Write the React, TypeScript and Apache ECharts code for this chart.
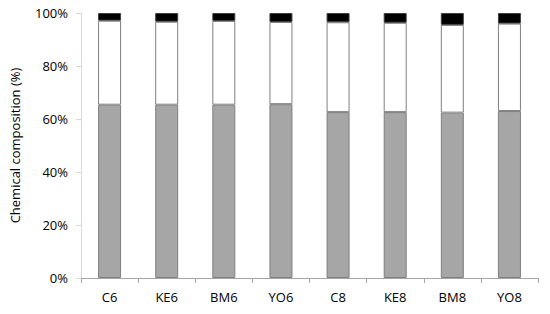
import React, { useEffect, useRef } from "react";
import * as echarts from "echarts";

const categories = ["C6", "KE6", "BM6", "YO6", "C8", "KE8", "BM8", "YO8"];
const grayValues = [65.4, 65.4, 65.4, 65.6, 62.6, 62.6, 62.4, 63.0];
const whiteValues = [31.7, 31.3, 31.6, 31.0, 33.9, 33.7, 33.1, 33.0];
const blackValues = [2.9, 3.3, 3.0, 3.4, 3.5, 3.7, 4.5, 4.0];
const yTicks = [0, 20, 40, 60, 80, 100];

export default function App() {
  const ref = useRef<HTMLDivElement>(null);
  useEffect(() => {
    if (!ref.current) return;
    const chart = echarts.init(ref.current, undefined, { renderer: "svg" });
    const font = "Open Sans, Liberation Sans, Arial, sans-serif";
    const mk = (name: string, data: number[], color: string, border: string) => ({
      name,
      type: "bar" as const,
      stack: "total",
      data,
      barWidth: 23,
      itemStyle: { color, borderColor: border, borderWidth: 1 },
    });
    chart.setOption({
      animation: false,
      backgroundColor: "#ffffff",
      grid: { left: 79, right: 12, top: 13, bottom: 36 },
      xAxis: {
        type: "category",
        data: categories,
        axisLine: { lineStyle: { color: "#a6a6a6", width: 1 } },
        axisTick: { show: true, length: 5, lineStyle: { color: "#a6a6a6" } },
        axisLabel: { color: "#000", fontFamily: font, fontSize: 13, margin: 12 },
      },
      yAxis: {
        type: "value",
        min: 0,
        max: 100,
        interval: 20,
        name: "Chemical composition (%)",
        nameLocation: "middle",
        nameGap: 60,
        nameTextStyle: { color: "#000", fontFamily: font, fontSize: 13 },
        axisLine: { show: true, lineStyle: { color: "#d9d9d9" } },
        axisTick: { show: true, length: 5, lineStyle: { color: "#d9d9d9" } },
        splitLine: { show: false },
        axisLabel: {
          color: "#000",
          fontFamily: font,
          fontSize: 13,
          margin: 13,
          formatter: (v: number) => (yTicks.includes(v) ? v + "%" : ""),
        },
      },
      series: [
        mk("gray", grayValues, "#a6a6a6", "#7f7f7f"),
        mk("white", whiteValues, "#ffffff", "#7f7f7f"),
        mk("black", blackValues, "#000000", "#404040"),
      ],
    });
    return () => chart.dispose();
  }, []);
  return (
    <div
      ref={ref}
      style={{ position: "fixed", left: 0, top: 0, width: 550, height: 314 }}
    />
  );
}
